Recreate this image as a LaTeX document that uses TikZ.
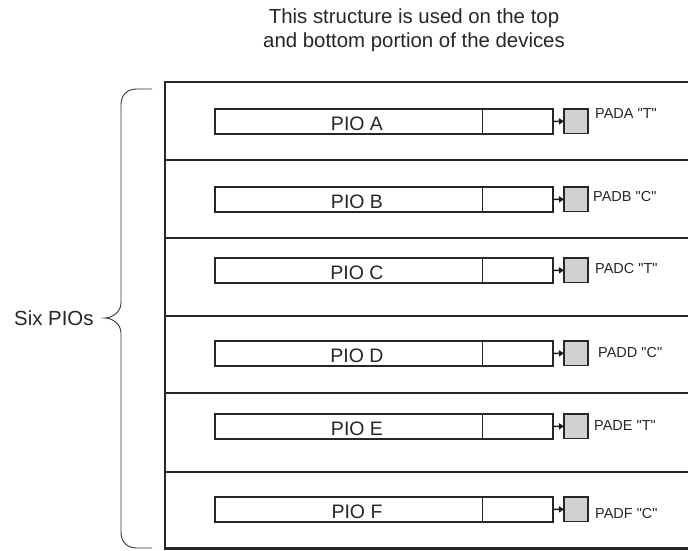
\documentclass[tikz,border=0pt]{standalone}
\usepackage{fontspec}
\setmainfont{Liberation Sans}[Ligatures=TeXOff]
\usetikzlibrary{arrows.meta}
\begin{document}
\begin{tikzpicture}[x=1pt,y=-1pt,
 piobox/.style={draw=black!85, line width=1.2pt, fill=white, minimum width=338pt, minimum height=25pt, inner sep=0pt, outer sep=0pt, anchor=north west},
 padbox/.style={draw=black!85, line width=1.2pt, fill=black!18, minimum width=24pt, minimum height=24.5pt, inner sep=0pt, outer sep=0pt, anchor=north west},
 padlabel/.style={anchor=base west, inner sep=0pt, text=black!85, font=\fontsize{14.5}{17}\selectfont},
 piolabel/.style={anchor=base, inner sep=0pt, text=black!85, font=\fontsize{19.5}{23}\selectfont},
 bigtext/.style={inner sep=0pt, text=black!85, font=\fontsize{20.4}{24}\selectfont},
 sepline/.style={draw=black!85, line width=2.4pt},
 conn/.style={draw=black!90, line width=1.5pt, -{Triangle[length=5pt,width=6pt]}},
 bracestyle/.style={draw=black!80, line width=0.9pt}]
\useasboundingbox (0,0) rectangle (688,550);
% title
\node[bigtext, anchor=base] (title1) at (414,23) {This structure is used on the top};
\node[bigtext, anchor=base] (title2) at (414,47) {and bottom portion of the devices};
% outer frame and row separators
\draw[sepline] (689,82) -- (165,82) -- (165,548.5) -- (689,548.5);
\foreach \yy in {160,238,316,393,472} {
  \draw[sepline] (165,\yy) -- (689,\yy);
}
% rows
\foreach \n/\bt/\lx/\ly/\tt in {A/109/595/118/T, B/187/593/201.7/C, C/258/595/273/T, D/341/598/357/C, E/414/594/430/T, F/497/595/518/C} {
  \node[piobox] (box\n) at (215,\bt) {};
  \draw[draw=black!85, line width=1.2pt] (482.5,\bt) -- (482.5,\bt+25);
  \node[piolabel] (pio\n) at (357,\bt+21.5) {PIO \n};
  \node[padbox] (pad\n) at (564,\bt) {};
  \draw[conn] (box\n.east) -- (pad\n.west);
  \node[padlabel] (lab\n) at (\lx,\ly) {PAD\n{} "\tt"};
}
% brace
\coordinate (bt) at (152,89);
\coordinate (bb) at (152,548);
\coordinate (tip) at (105,318);
\draw[bracestyle] (bt) -- (137,89) .. controls (127,89) and (121,95) .. (121,105) -- (121,303)
  .. controls (121,312) and (112,318) .. (tip)
  .. controls (112,318) and (121,324) .. (121,333) -- (121,532)
  .. controls (121,542) and (127,548) .. (137,548) -- (bb);
\node[bigtext, anchor=base west] (six) at (14,325) {Six PIOs};
\end{tikzpicture}
\end{document}
